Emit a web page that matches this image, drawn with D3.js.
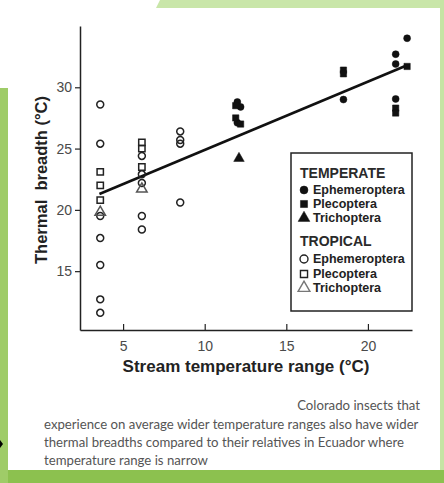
<!DOCTYPE html>
<html>
<head>
<meta charset="utf-8">
<script src="https://cdn.jsdelivr.net/npm/d3@7"></script>
<style>
  body { margin: 0; padding: 0; background: #fff; }
  svg { display: block; }
</style>
</head>
<body>
<svg width="444" height="483"></svg>
<script>
// stream temperature range (x) and thermal breadth (y)
const tropEphX = [3.6, 3.6, 3.6, 3.6, 3.6, 3.6, 3.6, 6.15, 6.15, 6.15, 6.15, 6.15, 8.5, 8.5, 8.5, 8.5]
const tropEphY = [28.6, 25.4, 19.5, 17.7, 15.5, 12.7, 11.6, 24.4, 22.9, 22.2, 19.5, 18.4, 26.4, 25.7, 25.4, 20.6]
const tropPleX = [3.6, 3.6, 3.6, 6.15, 6.15, 6.15]
const tropPleY = [23.1, 22.0, 20.8, 25.5, 25.0, 23.5]
const tropTriX = [3.6, 6.15]
const tropTriY = [19.8, 21.7]

const tempEphX = [12.0, 12.2, 12.0, 18.5, 21.7, 21.7, 22.4, 21.7]
const tempEphY = [28.8, 28.4, 27.1, 29.0, 32.7, 31.9, 34.0, 29.05]
const tempPleX = [11.9, 11.9, 12.2, 18.5, 18.5, 22.4, 21.7, 21.7]
const tempPleY = [28.5, 27.5, 27.0, 31.4, 31.1, 31.7, 28.3, 27.9]
const tempTriX = [12.1]
const tempTriY = [24.2]

// regression line end points
const fitX = [3.55, 22.4]
const fitY = [21.3, 31.8]

const xTicks = [5, 10, 15, 20]
const yTicks = [15, 20, 25, 30]

const captionLines = [
  "experience on average wider temperature ranges also have wider",
  "thermal breadths compared to their relatives in Ecuador where",
  "temperature range is narrow"
]

const svg = d3.select("svg")

// green slide background around the white panel
svg.append("rect").attr("width", 444).attr("height", 483).attr("fill", "#8cc14f")
svg.append("rect").attr("x", 0).attr("y", 0).attr("width", 444).attr("height", 88).attr("fill", "#c9e6a9")
svg.append("rect").attr("x", 0).attr("y", 88).attr("width", 8).attr("height", 395).attr("fill", "#9fcc68")
svg.append("rect").attr("x", 440).attr("y", 0).attr("width", 4).attr("height", 470).attr("fill", "#c6e4a4")
svg.append("path")
  .attr("d", "M0,0 L160,0 L156,8 L440,8 L440,470 L8,470 L8,88 L0,88 Z")
  .attr("fill", "#fff")
svg.append("path").attr("d", "M0,440 L3,444 L0,448 Z").attr("fill", "#000")

const x = d3.scaleLinear().domain([2.36, 22.7]).range([80, 412])
const y = d3.scaleLinear().domain([10.2, 35.0]).range([330, 26])

const axisColor = "#222"

const gx = svg.append("g").attr("transform", "translate(0,330)")
  .call(d3.axisBottom(x).tickValues(xTicks).tickSizeInner(-6).tickSizeOuter(0).tickPadding(8))
const gy = svg.append("g").attr("transform", "translate(80,0)")
  .call(d3.axisLeft(y).tickValues(yTicks).tickSizeInner(5).tickSizeOuter(0).tickPadding(3))

;[gx, gy].forEach(g => {
  g.select(".domain").attr("stroke", axisColor).attr("stroke-width", 1.5)
  g.selectAll(".tick line").attr("stroke", axisColor).attr("stroke-width", 1.2)
  g.selectAll(".tick text")
    .attr("fill", "#4a4a4a")
    .style("font-family", "'Liberation Sans', Arial, sans-serif")
    .style("font-size", "14px")
})
gx.selectAll(".tick text").attr("dy", "0.9em")

svg.append("text")
  .attr("x", 246).attr("y", 372)
  .attr("text-anchor", "middle")
  .style("font-family", "'Liberation Sans', Arial, sans-serif")
  .style("font-weight", "bold").style("font-size", "17px")
  .attr("fill", "#222")
  .text("Stream temperature range (°C)")

svg.append("text")
  .attr("transform", "translate(47,180) rotate(-90)")
  .attr("text-anchor", "middle")
  .attr("xml:space", "preserve")
  .style("white-space", "pre")
  .style("font-family", "'Liberation Sans', Arial, sans-serif")
  .style("font-weight", "bold").style("font-size", "16.5px")
  .attr("fill", "#222")
  .text("Thermal  breadth (°C)")

// regression line
svg.append("line")
  .attr("x1", x(fitX[0])).attr("y1", y(fitY[0]))
  .attr("x2", x(fitX[1])).attr("y2", y(fitY[1]))
  .attr("stroke", "#111").attr("stroke-width", 2.6)

const sym = {
  circle: d3.symbol().type(d3.symbolCircle).size(38),
  square: d3.symbol().type(d3.symbolSquare).size(40),
  triangle: d3.symbol().type(d3.symbolTriangle).size(48)
}

function drawSeries(xs, ys, shape, filled, color) {
  svg.append("g").selectAll("path")
    .data(xs.map((v, i) => [v, ys[i]]))
    .join("path")
      .attr("d", sym[shape])
      .attr("transform", d => `translate(${x(d[0])},${y(d[1])})`)
      .attr("fill", filled ? color : "#fff")
      .attr("fill-opacity", filled ? 1 : 0)
      .attr("stroke", color)
      .attr("stroke-width", filled ? 0.5 : 1.5)
}

drawSeries(tropEphX, tropEphY, "circle", false, "#222")
drawSeries(tropPleX, tropPleY, "square", false, "#222")
drawSeries(tropTriX, tropTriY, "triangle", false, "#555")
drawSeries(tempEphX, tempEphY, "circle", true, "#111")
drawSeries(tempPleX, tempPleY, "square", true, "#111")
drawSeries(tempTriX, tempTriY, "triangle", true, "#111")

// legend
const legend = svg.append("g")
legend.append("rect")
  .attr("x", 291).attr("y", 153).attr("width", 121).attr("height", 158)
  .attr("fill", "#fff").attr("stroke", "#222").attr("stroke-width", 1.5)

const legendItems = [
  { label: "TEMPERATE", y: 178, header: true },
  { label: "Ephemeroptera", y: 194, shape: "circle", filled: true, color: "#111" },
  { label: "Plecoptera", y: 208, shape: "square", filled: true, color: "#111" },
  { label: "Trichoptera", y: 222, shape: "triangle", filled: true, color: "#111" },
  { label: "TROPICAL", y: 246, header: true },
  { label: "Ephemeroptera", y: 263, shape: "circle", filled: false, color: "#222" },
  { label: "Plecoptera", y: 278, shape: "square", filled: false, color: "#222" },
  { label: "Trichoptera", y: 292, shape: "triangle", filled: false, color: "#777" }
]

legendItems.forEach(it => {
  if (it.header) {
    legend.append("text")
      .attr("x", 300).attr("y", it.y)
      .style("font-family", "'Liberation Sans', Arial, sans-serif")
      .style("font-size", "14px").style("font-weight", "bold")
      .attr("fill", "#2a2a2a")
      .text(it.label)
  } else {
    legend.append("path")
      .attr("d", d3.symbol().type(it.shape === "circle" ? d3.symbolCircle : it.shape === "square" ? d3.symbolSquare : d3.symbolTriangle).size(it.shape === "triangle" ? 60 : 50))
      .attr("transform", `translate(304,${it.y - 4})`)
      .attr("fill", it.filled ? it.color : "#fff")
      .attr("stroke", it.color)
      .attr("stroke-width", it.filled ? 0.5 : 1.4)
    legend.append("text")
      .attr("x", 313).attr("y", it.y)
      .style("font-family", "'Liberation Sans', Arial, sans-serif")
      .style("font-size", "12.5px").style("font-weight", "bold")
      .attr("fill", "#222")
      .text(it.label)
  }
})

// caption
svg.append("text")
  .attr("x", 420).attr("y", 410)
  .attr("text-anchor", "end")
  .style("font-family", "Lato, sans-serif").style("font-size", "13.2px")
  .attr("fill", "#555")
  .text("Colorado insects that")

svg.append("g").selectAll("text")
  .data(captionLines)
  .join("text")
    .attr("x", 44)
    .attr("y", (d, i) => 429 + i * 18)
    .style("font-family", "Lato, sans-serif").style("font-size", "13.2px")
    .attr("fill", "#555")
    .text(d => d)
</script>
</body>
</html>
